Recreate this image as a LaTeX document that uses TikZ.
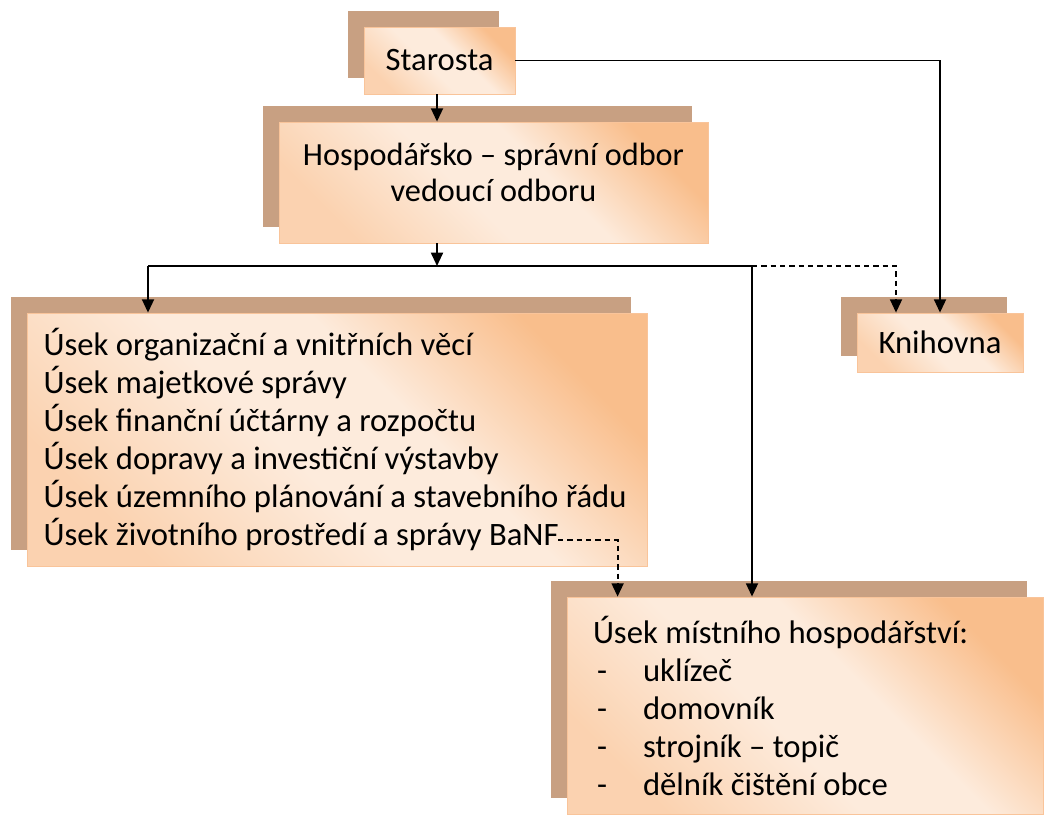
\documentclass[tikz,border=0pt]{standalone}
\usepackage{fontspec}
\setmainfont{Carlito}
\usepackage{xcolor}
\definecolor{cBack}{HTML}{C8A082}
\definecolor{cOrange}{HTML}{F9BE8C}
\definecolor{cLight}{HTML}{FDEBDC}
\definecolor{cEdge}{HTML}{F9C49A}
\colorlet{cMid}{cOrange!55!cLight}
\usepackage{tikz}
\usetikzlibrary{arrows.meta,calc,shadows}
\pgfdeclarehorizontalshading{boxfill}{100bp}{color(0bp)=(cMid); color(25bp)=(cMid);
  color(45bp)=(cLight); color(58bp)=(cLight); color(75bp)=(cOrange); color(100bp)=(cOrange)}
\tikzset{
  node-box/.style={draw=cEdge,line width=0.6pt,shade,shading=boxfill,shading angle=45,
    general shadow={fill=cBack,shadow xshift=-12pt,shadow yshift=12pt},
    inner sep=0pt,font=\fontsize{24.5}{28.5}\selectfont},
  arrow/.style={-{Triangle[length=10pt,width=9pt]},line width=1.4pt},
  arrow-dash/.style={arrow,dash pattern=on 4pt off 3pt},
}
\newcommand{\dashitem}[1]{\hspace*{3pt}\makebox[34.5pt][l]{-}#1}
\begin{document}
\begin{tikzpicture}[x=0.75pt,y=-0.75pt]
  \useasboundingbox (0,0) rectangle (1044,814);
  \node[node-box,minimum width=113.25pt,minimum height=50.25pt] (staro) at (439.5,60.5) {Starosta};
  \node[node-box,minimum width=321.75pt,minimum height=90.75pt,align=center,text depth=16pt,
    font=\fontsize{24.2}{27}\selectfont] (hosp) at (493.5,182.5)
    {Hospodářsko – správní odbor\\vedoucí odboru};
  \node[node-box,minimum width=465pt,minimum height=189.75pt,text width=440pt,align=flush left] (usek) at (337,439.5)
    {Úsek organizační a vnitřních věcí\\
     Úsek majetkové správy\\
     Úsek finanční účtárny a rozpočtu\\
     Úsek dopravy a investiční výstavby\\
     Úsek územního plánování a stavebního řádu\\
     Úsek životního prostředí a správy BaNF};
  \node[node-box,minimum width=124.5pt,minimum height=44.25pt] (knih) at (940,342.5) {Knihovna};
  \node[node-box,minimum width=357pt,minimum height=162.75pt,text width=318pt,align=flush left] (mist) at (805,705.5)
    {Úsek místního hospodářství:\\
     \dashitem{uklízeč}\\
     \dashitem{domovník}\\
     \dashitem{strojník – topič}\\
     \dashitem{dělník čištění obce}};
  \coordinate (split) at (437,266);
  \coordinate (jL) at (148,266);
  \coordinate (jR) at (752,266);
  \coordinate (banf) at (558,540);
  \draw[arrow] (staro.south -| split) -- (hosp.north -| split);
  \draw[arrow] (hosp.south -| split) -- (split);
  \draw[line width=1.4pt] (jL) -- (jR);
  \draw[arrow] (jL) -- (jL |- usek.north);
  \draw[arrow] (jR) -- (jR |- mist.north);
  \draw[arrow-dash] (jR) -| ($(knih.north)+(-44,0)$);
  \draw[arrow] (staro.east) -| (knih.north);
  \draw[arrow-dash] (banf) -| ($(mist.north west)+(51,0)$);
\end{tikzpicture}
\end{document}
